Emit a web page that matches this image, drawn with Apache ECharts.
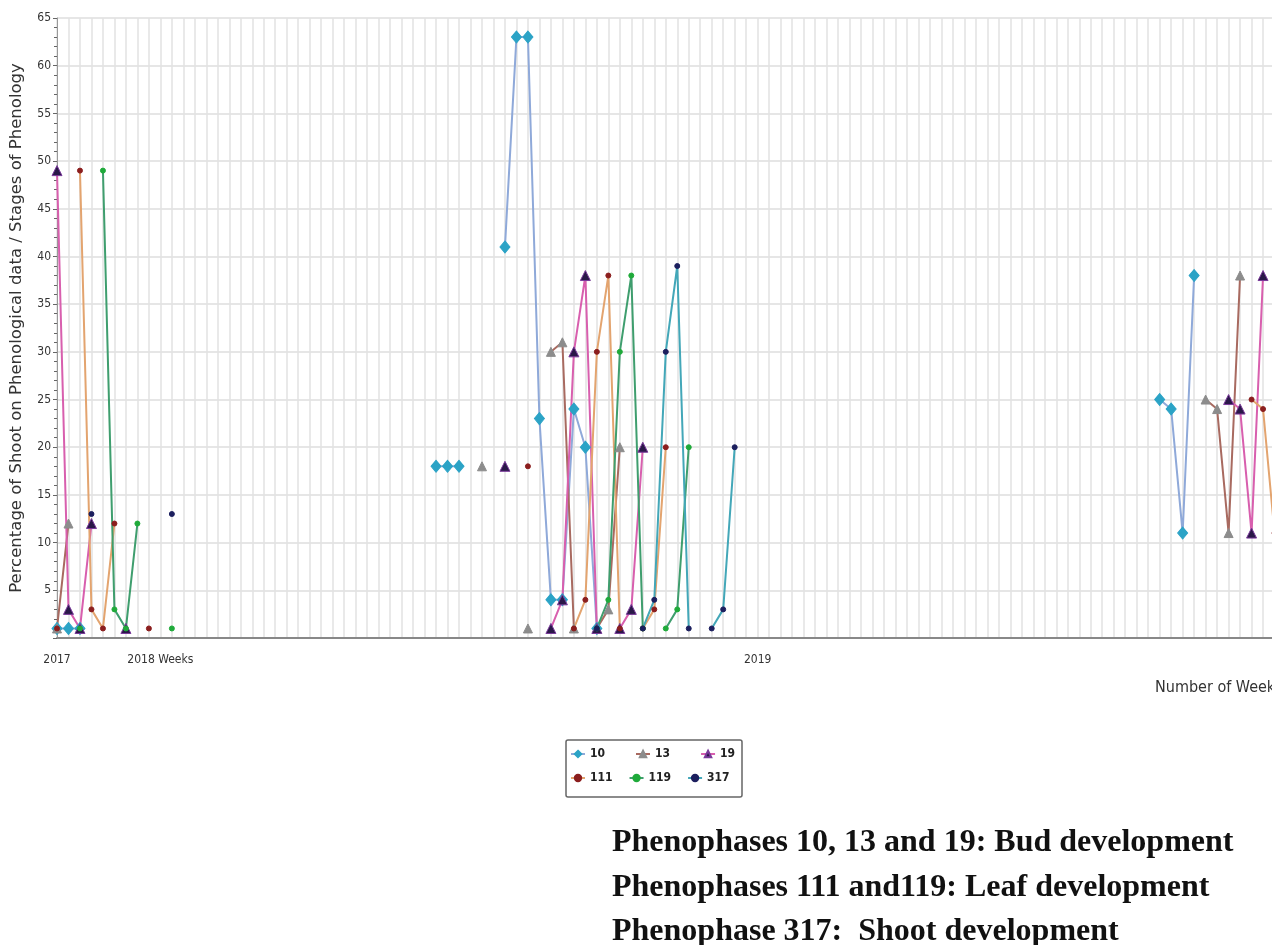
<!DOCTYPE html>
<html>
<head>
<meta charset="utf-8">
<script src="https://cdn.jsdelivr.net/npm/echarts@6/dist/echarts.min.js"></script>
<style>
    html, body { margin: 0; padding: 0; background: #fff; }
    #chart { width: 1272px; height: 945px; }
</style>
</head>
<body>
<div id="chart"></div>
<script>
    // week slots on the x axis (one grid line per week)
    const weekCount = 110
    const xTickLabels = {0: '2017', 9: '2018 Weeks', 61: '2019'}

    // phenophase 10
    const weeks10 = [0, 1, 2, 33, 34, 35, 39, 40, 41, 42, 43, 44, 45, 46, 47, 96, 97, 98, 99]
    const vals10 = [1, 1, 1, 18, 18, 18, 41, 63, 63, 23, 4, 4, 24, 20, 1, 25, 24, 11, 38]
    // phenophase 13
    const weeks13 = [0, 1, 37, 41, 43, 44, 45, 47, 48, 49, 100, 101, 102, 103]
    const vals13 = [1, 12, 18, 1, 30, 31, 1, 1, 3, 20, 25, 24, 11, 38]
    // phenophase 19
    const weeks19 = [0, 1, 2, 3, 6, 39, 43, 44, 45, 46, 47, 49, 50, 51, 102, 103, 104, 105]
    const vals19 = [49, 3, 1, 12, 1, 18, 1, 4, 30, 38, 1, 1, 3, 20, 25, 24, 11, 38]
    // phenophase 111
    const weeks111 = [0, 2, 3, 4, 5, 8, 41, 45, 46, 47, 48, 49, 51, 52, 53, 104, 105, 106]
    const vals111 = [1, 49, 3, 1, 12, 1, 18, 1, 4, 30, 38, 1, 1, 3, 20, 25, 24, 11]
    // phenophase 119
    const weeks119 = [2, 4, 5, 6, 7, 10, 47, 48, 49, 50, 51, 53, 54, 55]
    const vals119 = [1, 49, 3, 1, 12, 1, 1, 4, 30, 38, 1, 1, 3, 20]
    // phenophase 317
    const weeks317 = [3, 10, 47, 51, 52, 53, 54, 55, 57, 58, 59]
    const vals317 = [13, 13, 1, 1, 4, 30, 39, 1, 1, 3, 20]

    const condensed = '"DejaVu Sans Condensed", "Liberation Sans Narrow", "DejaVu Sans", sans-serif'
    const serifBold = 'bold 32px "Liberation Serif", serif'

    function fill(weeks, vals) {
        const d = new Array(weekCount).fill(null)
        weeks.forEach((w, i) => { d[w] = vals[i] })
        return d
    }

    function makeSeries(name, weeks, vals, lineColor, symbol, size, fillColor, borderColor) {
        return {
            name: name,
            type: 'line',
            data: fill(weeks, vals),
            symbol: symbol,
            symbolSize: size,
            showAllSymbol: true,
            connectNulls: false,
            lineStyle: {color: lineColor, width: 2},
            itemStyle: {color: fillColor, borderColor: borderColor || fillColor, borderWidth: 1},
            emphasis: {disabled: true},
            animation: false
        }
    }

    // two one-row legends so the columns line up like the original box
    function legendRow(names, top, gap) {
        return {
            left: 570,
            top: top,
            padding: 0,
            itemGap: gap,
            itemWidth: 14,
            itemHeight: 8,
            textStyle: {
                fontFamily: condensed,
                fontSize: 12,
                fontWeight: 'bold',
                color: '#222'
            },
            data: names
        }
    }

    const chart = echarts.init(document.getElementById('chart'))
    chart.setOption({
        animation: false,
        grid: {
            left: 57,
            top: 18,
            bottom: 307,
            right: -37,
            containLabel: false,
            outerBoundsMode: 'none'
        },
        legend: [
            legendRow(['10', '13', '19'], 748, 30),
            legendRow(['111', '119', '317'], 772, 16)
        ],
        xAxis: {
            type: 'category',
            boundaryGap: false,
            data: Array.from({length: weekCount}, (_, i) => String(i)),
            axisLine: {lineStyle: {color: '#888', width: 2}},
            axisTick: {show: false},
            axisLabel: {
                interval: 0,
                margin: 16,
                fontFamily: condensed,
                fontSize: 12,
                color: '#333',
                formatter: (v, i) => xTickLabels[i] || ''
            },
            splitLine: {show: true, interval: 0, lineStyle: {color: '#e2e2e2', width: 1.5}}
        },
        yAxis: {
            type: 'value',
            min: 0,
            max: 65,
            interval: 5,
            name: 'Percentage of Shoot on Phenological data / Stages of Phenology',
            nameLocation: 'middle',
            nameGap: 32,
            nameTextStyle: {fontFamily: '"DejaVu Sans", sans-serif', fontSize: 16.5, color: '#333'},
            axisLine: {show: true, lineStyle: {color: '#999', width: 1}},
            axisTick: {show: true, length: 4, lineStyle: {color: '#666'}},
            minorTick: {show: true, splitNumber: 5, length: 3, lineStyle: {color: '#666'}},
            axisLabel: {
                fontFamily: condensed,
                fontSize: 12,
                color: '#333',
                margin: 6,
                formatter: v => v === 0 ? '' : v
            },
            splitLine: {lineStyle: {color: '#dedede', width: 1.5}}
        },
        graphic: [
            {type: 'rect', shape: {x: 566, y: 740, width: 176, height: 57, r: 2},
                style: {fill: 'none', stroke: '#666', lineWidth: 1.5}, silent: true},
            {type: 'text', left: 1155, top: 680,
                style: {text: 'Number of Weeks', font: '16px ' + condensed, fill: '#333'}},
            {type: 'text', x: 612, y: 843,
                style: {text: 'Phenophases 10, 13 and 19: Bud development', font: serifBold, fill: '#111', verticalAlign: 'middle'}},
            {type: 'text', x: 612, y: 888,
                style: {text: 'Phenophases 111 and119: Leaf development', font: serifBold, fill: '#111', verticalAlign: 'middle'}},
            {type: 'text', x: 612, y: 932,
                style: {text: 'Phenophase 317:  Shoot development', font: serifBold, fill: '#111', verticalAlign: 'middle'}}
        ],
        series: [
            makeSeries('10', weeks10, vals10, '#8fa9d9', 'diamond', [10, 12], '#2ba3c6'),
            makeSeries('13', weeks13, vals13, '#a86a60', 'triangle', 9, '#8c8c8c'),
            makeSeries('19', weeks19, vals19, '#d85fae', 'triangle', 10, '#2a1848', '#7a3a9a'),
            makeSeries('111', weeks111, vals111, '#e3a46f', 'circle', 5, '#8b1e1e'),
            makeSeries('119', weeks119, vals119, '#3f9e6e', 'circle', 5, '#1faa3a'),
            makeSeries('317', weeks317, vals317, '#43a7b8', 'circle', 5, '#1c1f5e')
        ]
    })
</script>
</body>
</html>
